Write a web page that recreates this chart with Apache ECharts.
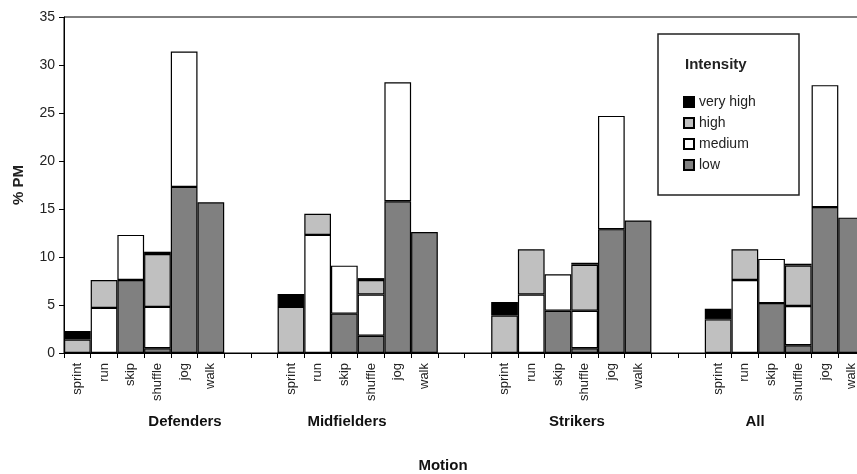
<!DOCTYPE html>
<html>
<head>
<meta charset="utf-8">
<script src="https://cdn.jsdelivr.net/npm/echarts@6/dist/echarts.min.js"></script>
<style>html,body{margin:0;padding:0;background:#fff}#c{width:857px;height:474px}</style>
</head>
<body>
<div id="c"></div>
<script>
const groups = ['Defenders', 'Midfielders', 'Strikers', 'All'];
const motions = ['sprint', 'run', 'skip', 'shuffle', 'jog', 'walk'];
const yTicks = [0, 5, 10, 15, 20, 25, 30, 35];
// values per group, in motion order (sprint, run, skip, shuffle, jog, walk)
const lowValues = [null, null, 7.6, 0.5, 17.3, 15.7,  null, null, 4.1, 1.8, 15.8, 12.6,  null, null, 4.4, 0.5, 12.9, 13.8,  null, null, 5.2, 0.8, 15.2, 14.1];
const mediumValues = [null, 4.7, 4.7, 4.3, 14.1, null,  null, 12.3, 5.0, 4.3, 12.4, null,  null, 6.1, 3.8, 3.9, 11.8, null,  null, 7.6, 4.6, 4.1, 12.7, null];
const highValues = [1.4, 2.9, null, 5.5, null, null,  4.8, 2.2, null, 1.5, null, null,  3.9, 4.7, null, 4.8, null, null,  3.5, 3.2, null, 4.2, null, null];
const veryHighValues = [0.9, null, null, 0.25, null, null,  1.35, null, null, 0.2, null, null,  1.4, null, null, 0.2, null, null,  1.1, null, null, 0.2, null, null];

// build category list with two empty slots between groups
const categories = [];
const idxMap = [];
groups.forEach((g, gi) => {
  motions.forEach((m, mi) => { categories.push(m); idxMap.push(gi * 6 + mi); });
  if (gi < groups.length - 1) { categories.push(''); idxMap.push(-1); categories.push(' '); idxMap.push(-1); }
});
const expand = arr => idxMap.map(i => (i < 0 || arr[i] == null) ? '-' : arr[i]);

const font = '"Liberation Sans", Arial, sans-serif';
const mk = (name, arr, color) => ({
  name, type: 'bar', stack: 'pm', data: expand(arr),
  barWidth: '100%', barCategoryGap: '0%',
  itemStyle: { color, borderColor: '#000', borderWidth: 1.2 },
  emphasis: { disabled: true }
});

const chart = echarts.init(document.getElementById('c'), null, { renderer: 'canvas' });
chart.setOption({
  animation: false,
  backgroundColor: '#fff',
  textStyle: { fontFamily: font },
  grid: { left: 64, top: 17, height: 336, width: 801, outerBoundsMode: 'none', containLabel: false, show: true, borderColor: '#000', borderWidth: 1, backgroundColor: 'transparent' },
  xAxis: {
    type: 'category', data: categories,
    axisLine: { lineStyle: { color: '#000', width: 1 } },
    axisTick: { show: true, interval: 0, length: 5, lineStyle: { color: '#000' } },
    axisLabel: { interval: 0, rotate: 90, fontSize: 13, color: '#222', fontFamily: font, margin: 10 }
  },
  yAxis: {
    type: 'value', min: 0, max: 35, interval: 5,
    name: '% PM', nameLocation: 'middle', nameRotate: 90, nameGap: 38,
    nameTextStyle: { fontSize: 15, fontWeight: 'bold', color: '#222', fontFamily: font },
    splitLine: { show: false },
    axisLine: { show: true, lineStyle: { color: '#000', width: 1 } },
    axisTick: { show: true, length: 5, lineStyle: { color: '#000' } },
    axisLabel: { fontSize: 14, color: '#222', fontFamily: font, margin: 9 }
  },
  legend: {
    orient: 'vertical', left: 678, top: 89,
    data: ['very high', 'high', 'medium', 'low'],
    icon: 'rect', itemWidth: 10, itemHeight: 10, itemGap: 5,
    textStyle: { fontSize: 14, color: '#222', fontFamily: font, lineHeight: 16 }
  },
  graphic: [
    { type: 'rect', shape: { x: 658, y: 34, width: 141, height: 161 }, style: { fill: 'transparent', stroke: '#222', lineWidth: 1.5 }, z: 10 },
    { type: 'text', left: 685, top: 57, style: { text: 'Intensity', font: 'bold 15px ' + font, fill: '#222' }, z: 10 },
    { type: 'text', x: 185, y: 422, style: { text: groups[0], font: 'bold 15px ' + font, fill: '#111', align: 'center', verticalAlign: 'middle' } },
    { type: 'text', x: 347, y: 422, style: { text: groups[1], font: 'bold 15px ' + font, fill: '#111', align: 'center', verticalAlign: 'middle' } },
    { type: 'text', x: 577, y: 422, style: { text: groups[2], font: 'bold 15px ' + font, fill: '#111', align: 'center', verticalAlign: 'middle' } },
    { type: 'text', x: 755, y: 422, style: { text: groups[3], font: 'bold 15px ' + font, fill: '#111', align: 'center', verticalAlign: 'middle' } },
    { type: 'text', x: 443, y: 466, style: { text: 'Motion', font: 'bold 15px ' + font, fill: '#111', align: 'center', verticalAlign: 'middle' } }
  ],
  series: [
    mk('low', lowValues, '#808080'),
    mk('medium', mediumValues, '#ffffff'),
    mk('high', highValues, '#c0c0c0'),
    mk('very high', veryHighValues, '#000000')
  ]
});
</script>
</body>
</html>
